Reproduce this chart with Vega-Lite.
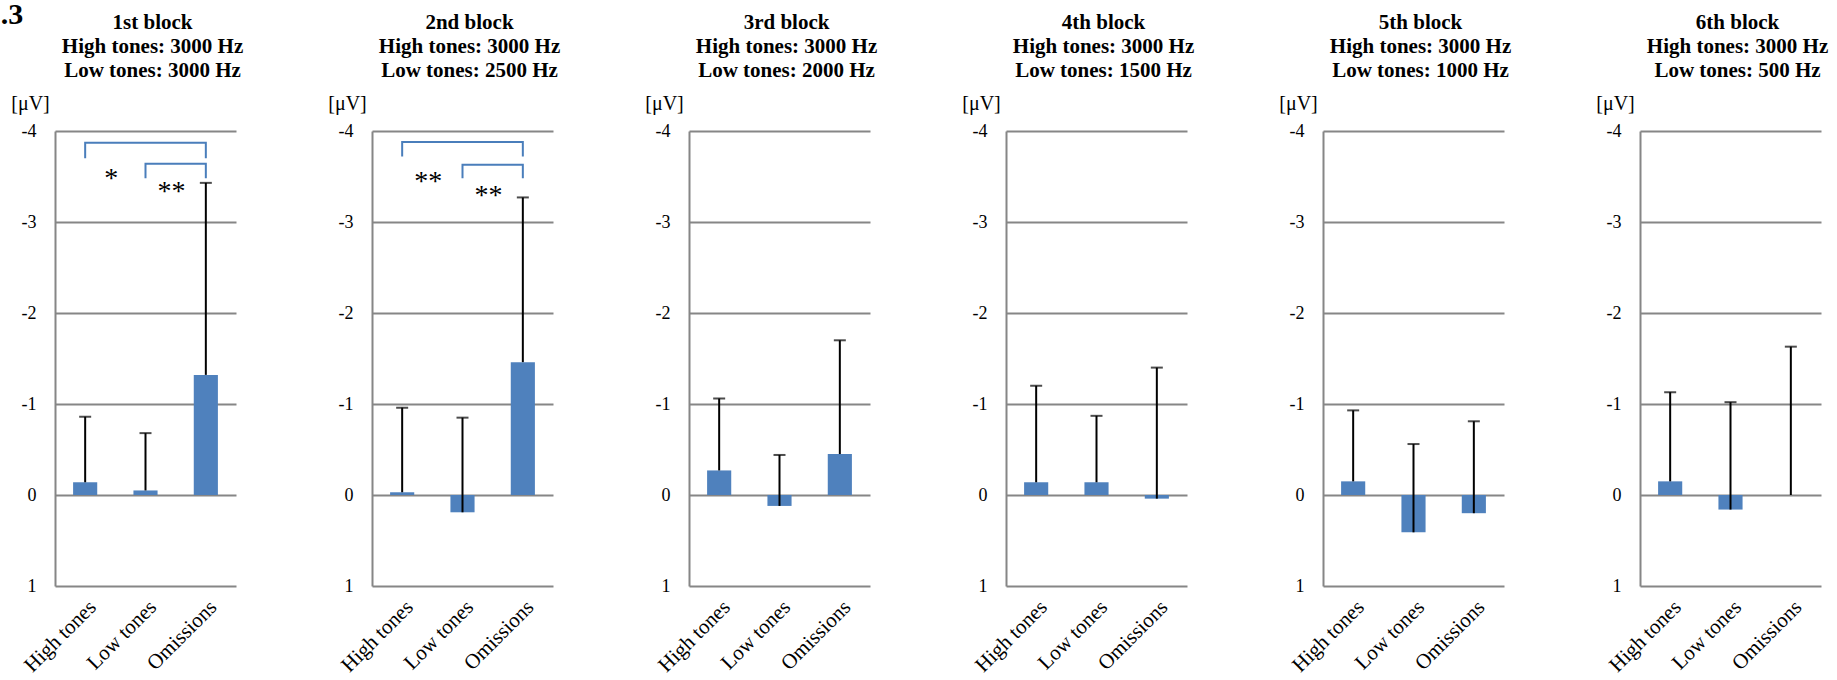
{
  "$schema": "https://vega.github.io/schema/vega-lite/v6.json",
  "padding": {"left": 0, "right": 5, "top": 0, "bottom": 0},
  "background": "white",
  "spacing": 136,
  "bounds": "flush",
  "title": {"text": ".3", "anchor": "start", "frame": "bounds", "font": "Liberation Serif", "fontSize": 30, "fontWeight": "bold", "offset": -18, "dx": -10, "color": "black"},
  "datasets": {
    "bars": [
      {"block": "1st", "condition": "High tones", "mean": -0.14, "sd_end": -0.86},
      {"block": "1st", "condition": "Low tones", "mean": -0.05, "sd_end": -0.68},
      {"block": "1st", "condition": "Omissions", "mean": -1.32, "sd_end": -3.43},
      {"block": "2nd", "condition": "High tones", "mean": -0.03, "sd_end": -0.96},
      {"block": "2nd", "condition": "Low tones", "mean": 0.19, "sd_end": -0.85},
      {"block": "2nd", "condition": "Omissions", "mean": -1.46, "sd_end": -3.27},
      {"block": "3rd", "condition": "High tones", "mean": -0.27, "sd_end": -1.06},
      {"block": "3rd", "condition": "Low tones", "mean": 0.12, "sd_end": -0.44},
      {"block": "3rd", "condition": "Omissions", "mean": -0.45, "sd_end": -1.70},
      {"block": "4th", "condition": "High tones", "mean": -0.14, "sd_end": -1.20},
      {"block": "4th", "condition": "Low tones", "mean": -0.14, "sd_end": -0.87},
      {"block": "4th", "condition": "Omissions", "mean": 0.04, "sd_end": -1.40},
      {"block": "5th", "condition": "High tones", "mean": -0.15, "sd_end": -0.93},
      {"block": "5th", "condition": "Low tones", "mean": 0.41, "sd_end": -0.56},
      {"block": "5th", "condition": "Omissions", "mean": 0.20, "sd_end": -0.81},
      {"block": "6th", "condition": "High tones", "mean": -0.15, "sd_end": -1.13},
      {"block": "6th", "condition": "Low tones", "mean": 0.16, "sd_end": -1.02},
      {"block": "6th", "condition": "Omissions", "mean": 0.0, "sd_end": -1.63}
    ],
    "brackets": [
      {"block": "1st", "bracket": "outer", "step": 1, "condition": "High tones", "y": -3.70},
      {"block": "1st", "bracket": "outer", "step": 2, "condition": "High tones", "y": -3.87},
      {"block": "1st", "bracket": "outer", "step": 3, "condition": "Omissions", "y": -3.87},
      {"block": "1st", "bracket": "outer", "step": 4, "condition": "Omissions", "y": -3.70},
      {"block": "1st", "bracket": "inner", "step": 1, "condition": "Low tones", "y": -3.48},
      {"block": "1st", "bracket": "inner", "step": 2, "condition": "Low tones", "y": -3.64},
      {"block": "1st", "bracket": "inner", "step": 3, "condition": "Omissions", "y": -3.64},
      {"block": "1st", "bracket": "inner", "step": 4, "condition": "Omissions", "y": -3.48},
      {"block": "2nd", "bracket": "outer", "step": 1, "condition": "High tones", "y": -3.72},
      {"block": "2nd", "bracket": "outer", "step": 2, "condition": "High tones", "y": -3.88},
      {"block": "2nd", "bracket": "outer", "step": 3, "condition": "Omissions", "y": -3.88},
      {"block": "2nd", "bracket": "outer", "step": 4, "condition": "Omissions", "y": -3.72},
      {"block": "2nd", "bracket": "inner", "step": 1, "condition": "Low tones", "y": -3.48},
      {"block": "2nd", "bracket": "inner", "step": 2, "condition": "Low tones", "y": -3.63},
      {"block": "2nd", "bracket": "inner", "step": 3, "condition": "Omissions", "y": -3.63},
      {"block": "2nd", "bracket": "inner", "step": 4, "condition": "Omissions", "y": -3.48}
    ],
    "stars": [
      {"block": "1st", "condition": "High tones", "y": -3.54, "label": "*"},
      {"block": "1st", "condition": "Low tones", "y": -3.40, "label": "**"},
      {"block": "2nd", "condition": "High tones", "y": -3.51, "label": "**"},
      {"block": "2nd", "condition": "Low tones", "y": -3.35, "label": "**"}
    ]
  },
  "config": {
    "font": "Liberation Serif",
    "view": {"stroke": null},
    "title": {"font": "Liberation Serif", "fontSize": 21, "fontWeight": "bold", "lineHeight": 24, "offset": 12, "frame": "group", "dx": 7, "color": "black", "anchor": "middle"},
    "axisY": {"grid": true, "gridColor": "#868686", "gridWidth": 1.8, "domain": true, "domainColor": "#868686", "domainWidth": 2, "ticks": false, "labelFont": "Liberation Serif", "labelFontSize": 18, "labelColor": "black", "labelPadding": 19, "titleAngle": 0, "titleX": -25, "titleY": -28, "titleAlign": "center", "titleBaseline": "middle", "titleFont": "Liberation Serif", "titleFontSize": 20, "titleFontWeight": "normal", "titleColor": "black"},
    "axisX": {"grid": false, "domain": false, "ticks": false, "labelAngle": -45, "labelAlign": "right", "labelBaseline": "top", "labelPadding": 10, "labelFont": "Liberation Serif", "labelFontSize": 21, "labelColor": "black"}
  },
  "hconcat": [
    {
      "width": 181, "height": 455,
      "title": {"text": ["1st block", "High tones: 3000 Hz", "Low tones: 3000 Hz"]},
      "layer": [
        {"data": {"name": "bars"}, "transform": [{"filter": "datum.block == '1st'"}], "mark": {"type": "bar", "width": {"band": 0.4}, "color": "#4F81BD"},
         "encoding": {"x": {"field": "condition", "type": "nominal", "title": null, "scale": {"domain": ["High tones", "Low tones", "Omissions"], "paddingInner": 0, "paddingOuter": 0}},
                      "y": {"field": "mean", "type": "quantitative", "title": "[μV]", "scale": {"domain": [-4, 1], "reverse": true, "nice": false}, "axis": {"values": [-4, -3, -2, -1, 0, 1], "labelExpr": "datum.value < 0 ? '-' + abs(datum.value) : '' + datum.value"}}}},
        {"data": {"name": "bars"}, "transform": [{"filter": "datum.block == '1st'"}], "mark": {"type": "rule", "color": "black", "strokeWidth": 2},
         "encoding": {"x": {"field": "condition", "type": "nominal", "title": null}, "y": {"field": "mean", "type": "quantitative", "title": "[μV]"}, "y2": {"field": "sd_end"}}},
        {"data": {"name": "bars"}, "transform": [{"filter": "datum.block == '1st'"}], "mark": {"type": "tick", "color": "black", "size": 12, "thickness": 2},
         "encoding": {"x": {"field": "condition", "type": "nominal", "title": null}, "y": {"field": "sd_end", "type": "quantitative", "title": "[μV]"}}},
        {"data": {"name": "brackets"}, "transform": [{"filter": "datum.block == '1st'"}], "mark": {"type": "line", "color": "#4A7EBB", "strokeWidth": 2},
         "encoding": {"x": {"field": "condition", "type": "nominal", "title": null}, "y": {"field": "y", "type": "quantitative", "title": "[μV]"}, "detail": {"field": "bracket"}, "order": {"field": "step"}}},
        {"data": {"name": "stars"}, "transform": [{"filter": "datum.block == '1st'"}], "mark": {"type": "text", "font": "Liberation Serif", "fontSize": 28, "dx": 26, "dy": 14, "baseline": "alphabetic", "align": "center", "color": "black"},
         "encoding": {"x": {"field": "condition", "type": "nominal", "title": null}, "y": {"field": "y", "type": "quantitative", "title": "[μV]"}, "text": {"field": "label"}}}
      ]
    },
    {
      "width": 181, "height": 455,
      "title": {"text": ["2nd block", "High tones: 3000 Hz", "Low tones: 2500 Hz"]},
      "layer": [
        {"data": {"name": "bars"}, "transform": [{"filter": "datum.block == '2nd'"}], "mark": {"type": "bar", "width": {"band": 0.4}, "color": "#4F81BD"},
         "encoding": {"x": {"field": "condition", "type": "nominal", "title": null, "scale": {"domain": ["High tones", "Low tones", "Omissions"], "paddingInner": 0, "paddingOuter": 0}},
                      "y": {"field": "mean", "type": "quantitative", "title": "[μV]", "scale": {"domain": [-4, 1], "reverse": true, "nice": false}, "axis": {"values": [-4, -3, -2, -1, 0, 1], "labelExpr": "datum.value < 0 ? '-' + abs(datum.value) : '' + datum.value"}}}},
        {"data": {"name": "bars"}, "transform": [{"filter": "datum.block == '2nd'"}], "mark": {"type": "rule", "color": "black", "strokeWidth": 2},
         "encoding": {"x": {"field": "condition", "type": "nominal", "title": null}, "y": {"field": "mean", "type": "quantitative", "title": "[μV]"}, "y2": {"field": "sd_end"}}},
        {"data": {"name": "bars"}, "transform": [{"filter": "datum.block == '2nd'"}], "mark": {"type": "tick", "color": "black", "size": 12, "thickness": 2},
         "encoding": {"x": {"field": "condition", "type": "nominal", "title": null}, "y": {"field": "sd_end", "type": "quantitative", "title": "[μV]"}}},
        {"data": {"name": "brackets"}, "transform": [{"filter": "datum.block == '2nd'"}], "mark": {"type": "line", "color": "#4A7EBB", "strokeWidth": 2},
         "encoding": {"x": {"field": "condition", "type": "nominal", "title": null}, "y": {"field": "y", "type": "quantitative", "title": "[μV]"}, "detail": {"field": "bracket"}, "order": {"field": "step"}}},
        {"data": {"name": "stars"}, "transform": [{"filter": "datum.block == '2nd'"}], "mark": {"type": "text", "font": "Liberation Serif", "fontSize": 28, "dx": 26, "dy": 14, "baseline": "alphabetic", "align": "center", "color": "black"},
         "encoding": {"x": {"field": "condition", "type": "nominal", "title": null}, "y": {"field": "y", "type": "quantitative", "title": "[μV]"}, "text": {"field": "label"}}}
      ]
    },
    {
      "width": 181, "height": 455,
      "title": {"text": ["3rd block", "High tones: 3000 Hz", "Low tones: 2000 Hz"]},
      "layer": [
        {"data": {"name": "bars"}, "transform": [{"filter": "datum.block == '3rd'"}], "mark": {"type": "bar", "width": {"band": 0.4}, "color": "#4F81BD"},
         "encoding": {"x": {"field": "condition", "type": "nominal", "title": null, "scale": {"domain": ["High tones", "Low tones", "Omissions"], "paddingInner": 0, "paddingOuter": 0}},
                      "y": {"field": "mean", "type": "quantitative", "title": "[μV]", "scale": {"domain": [-4, 1], "reverse": true, "nice": false}, "axis": {"values": [-4, -3, -2, -1, 0, 1], "labelExpr": "datum.value < 0 ? '-' + abs(datum.value) : '' + datum.value"}}}},
        {"data": {"name": "bars"}, "transform": [{"filter": "datum.block == '3rd'"}], "mark": {"type": "rule", "color": "black", "strokeWidth": 2},
         "encoding": {"x": {"field": "condition", "type": "nominal", "title": null}, "y": {"field": "mean", "type": "quantitative", "title": "[μV]"}, "y2": {"field": "sd_end"}}},
        {"data": {"name": "bars"}, "transform": [{"filter": "datum.block == '3rd'"}], "mark": {"type": "tick", "color": "black", "size": 12, "thickness": 2},
         "encoding": {"x": {"field": "condition", "type": "nominal", "title": null}, "y": {"field": "sd_end", "type": "quantitative", "title": "[μV]"}}}
      ]
    },
    {
      "width": 181, "height": 455,
      "title": {"text": ["4th block", "High tones: 3000 Hz", "Low tones: 1500 Hz"]},
      "layer": [
        {"data": {"name": "bars"}, "transform": [{"filter": "datum.block == '4th'"}], "mark": {"type": "bar", "width": {"band": 0.4}, "color": "#4F81BD"},
         "encoding": {"x": {"field": "condition", "type": "nominal", "title": null, "scale": {"domain": ["High tones", "Low tones", "Omissions"], "paddingInner": 0, "paddingOuter": 0}},
                      "y": {"field": "mean", "type": "quantitative", "title": "[μV]", "scale": {"domain": [-4, 1], "reverse": true, "nice": false}, "axis": {"values": [-4, -3, -2, -1, 0, 1], "labelExpr": "datum.value < 0 ? '-' + abs(datum.value) : '' + datum.value"}}}},
        {"data": {"name": "bars"}, "transform": [{"filter": "datum.block == '4th'"}], "mark": {"type": "rule", "color": "black", "strokeWidth": 2},
         "encoding": {"x": {"field": "condition", "type": "nominal", "title": null}, "y": {"field": "mean", "type": "quantitative", "title": "[μV]"}, "y2": {"field": "sd_end"}}},
        {"data": {"name": "bars"}, "transform": [{"filter": "datum.block == '4th'"}], "mark": {"type": "tick", "color": "black", "size": 12, "thickness": 2},
         "encoding": {"x": {"field": "condition", "type": "nominal", "title": null}, "y": {"field": "sd_end", "type": "quantitative", "title": "[μV]"}}}
      ]
    },
    {
      "width": 181, "height": 455,
      "title": {"text": ["5th block", "High tones: 3000 Hz", "Low tones: 1000 Hz"]},
      "layer": [
        {"data": {"name": "bars"}, "transform": [{"filter": "datum.block == '5th'"}], "mark": {"type": "bar", "width": {"band": 0.4}, "color": "#4F81BD"},
         "encoding": {"x": {"field": "condition", "type": "nominal", "title": null, "scale": {"domain": ["High tones", "Low tones", "Omissions"], "paddingInner": 0, "paddingOuter": 0}},
                      "y": {"field": "mean", "type": "quantitative", "title": "[μV]", "scale": {"domain": [-4, 1], "reverse": true, "nice": false}, "axis": {"values": [-4, -3, -2, -1, 0, 1], "labelExpr": "datum.value < 0 ? '-' + abs(datum.value) : '' + datum.value"}}}},
        {"data": {"name": "bars"}, "transform": [{"filter": "datum.block == '5th'"}], "mark": {"type": "rule", "color": "black", "strokeWidth": 2},
         "encoding": {"x": {"field": "condition", "type": "nominal", "title": null}, "y": {"field": "mean", "type": "quantitative", "title": "[μV]"}, "y2": {"field": "sd_end"}}},
        {"data": {"name": "bars"}, "transform": [{"filter": "datum.block == '5th'"}], "mark": {"type": "tick", "color": "black", "size": 12, "thickness": 2},
         "encoding": {"x": {"field": "condition", "type": "nominal", "title": null}, "y": {"field": "sd_end", "type": "quantitative", "title": "[μV]"}}}
      ]
    },
    {
      "width": 181, "height": 455,
      "title": {"text": ["6th block", "High tones: 3000 Hz", "Low tones: 500 Hz"]},
      "layer": [
        {"data": {"name": "bars"}, "transform": [{"filter": "datum.block == '6th'"}], "mark": {"type": "bar", "width": {"band": 0.4}, "color": "#4F81BD"},
         "encoding": {"x": {"field": "condition", "type": "nominal", "title": null, "scale": {"domain": ["High tones", "Low tones", "Omissions"], "paddingInner": 0, "paddingOuter": 0}},
                      "y": {"field": "mean", "type": "quantitative", "title": "[μV]", "scale": {"domain": [-4, 1], "reverse": true, "nice": false}, "axis": {"values": [-4, -3, -2, -1, 0, 1], "labelExpr": "datum.value < 0 ? '-' + abs(datum.value) : '' + datum.value"}}}},
        {"data": {"name": "bars"}, "transform": [{"filter": "datum.block == '6th'"}], "mark": {"type": "rule", "color": "black", "strokeWidth": 2},
         "encoding": {"x": {"field": "condition", "type": "nominal", "title": null}, "y": {"field": "mean", "type": "quantitative", "title": "[μV]"}, "y2": {"field": "sd_end"}}},
        {"data": {"name": "bars"}, "transform": [{"filter": "datum.block == '6th'"}], "mark": {"type": "tick", "color": "black", "size": 12, "thickness": 2},
         "encoding": {"x": {"field": "condition", "type": "nominal", "title": null}, "y": {"field": "sd_end", "type": "quantitative", "title": "[μV]"}}}
      ]
    }
  ]
}
